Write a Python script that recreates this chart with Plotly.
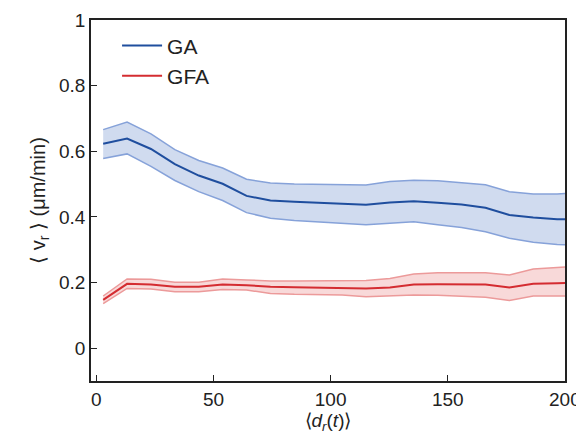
import plotly.graph_objects as go

x_vals = [2.9, 13.1, 23.3, 33.5, 43.7, 53.9, 64.1, 74.3, 84.5, 94.7, 104.9,
          115.1, 125.3, 135.5, 145.7, 155.9, 166.1, 176.3, 186.5, 196.7, 206.9]

ga_mean = [0.623, 0.639, 0.607, 0.561, 0.526, 0.501, 0.464, 0.450, 0.446, 0.443, 0.441,
           0.437, 0.444, 0.448, 0.443, 0.438, 0.428, 0.406, 0.398, 0.393, 0.392]
ga_upper = [0.666, 0.689, 0.653, 0.605, 0.572, 0.549, 0.515, 0.503, 0.500, 0.499, 0.499,
            0.497, 0.508, 0.512, 0.510, 0.505, 0.498, 0.477, 0.470, 0.470, 0.474]
ga_lower = [0.578, 0.592, 0.554, 0.511, 0.477, 0.450, 0.413, 0.396, 0.389, 0.384, 0.381,
            0.376, 0.381, 0.385, 0.376, 0.368, 0.355, 0.335, 0.323, 0.316, 0.313]

gfa_mean = [0.147, 0.196, 0.194, 0.187, 0.187, 0.194, 0.192, 0.187, 0.186, 0.185, 0.184,
            0.182, 0.185, 0.194, 0.195, 0.195, 0.194, 0.185, 0.196, 0.198, 0.200]
gfa_upper = [0.159, 0.211, 0.210, 0.201, 0.201, 0.211, 0.208, 0.205, 0.205, 0.205, 0.206,
             0.206, 0.212, 0.226, 0.230, 0.230, 0.230, 0.223, 0.241, 0.246, 0.250]
gfa_lower = [0.136, 0.182, 0.180, 0.172, 0.172, 0.179, 0.177, 0.167, 0.164, 0.163, 0.162,
             0.157, 0.159, 0.162, 0.161, 0.159, 0.155, 0.145, 0.159, 0.159, 0.159]

x_ticks = [0, 50, 100, 150, 200]
x_tick_text = ["0", "50", "100", "150", "200"]
y_ticks = [0, 0.2, 0.4, 0.6, 0.8, 1]
y_tick_text = ["0", "0.2", "0.4", "0.6", "0.8", "1"]

series = [
    ("GA", ga_mean, ga_upper, ga_lower, "#1f4e9e", "#86a2d9", "rgba(170,190,226,0.55)"),
    ("GFA", gfa_mean, gfa_upper, gfa_lower, "#d42c31", "#ec9a9a", "rgba(240,170,170,0.45)"),
]

fig = go.Figure()
for name, mean, up, lo, col, edge, fill in series:
    fig.add_trace(go.Scatter(x=x_vals, y=lo, mode="lines", line=dict(color=edge, width=1.5),
                             showlegend=False, hoverinfo="skip"))
    fig.add_trace(go.Scatter(x=x_vals, y=up, mode="lines", line=dict(color=edge, width=1.5),
                             fill="tonexty", fillcolor=fill, showlegend=False, hoverinfo="skip"))
for name, mean, up, lo, col, edge, fill in series:
    fig.add_trace(go.Scatter(x=x_vals, y=mean, mode="lines", name=name,
                             line=dict(color=col, width=2)))

fig.update_layout(
    width=576, height=445,
    margin=dict(l=91, r=11, t=20, b=64),
    paper_bgcolor="white", plot_bgcolor="white",
    font=dict(family="Liberation Sans, Arial, sans-serif", size=19, color="#222"),
    legend=dict(x=0.055, y=0.985, xanchor="left", yanchor="top", traceorder="normal",
                bgcolor="rgba(0,0,0,0)", font=dict(size=21),
                itemwidth=40, tracegroupgap=0),
    xaxis=dict(range=[-2.3, 200.05], tickvals=x_ticks, ticktext=x_tick_text,
               ticks="inside", ticklen=6, ticklabeloverflow="allow", automargin=False,
               showgrid=False, zeroline=False, showline=True, linecolor="#222",
               linewidth=1.5, mirror=True, tickcolor="#222",
               title=dict(text="⟨<i>d<sub>r</sub></i>(<i>t</i>)⟩", standoff=4,
                          font=dict(size=19))),
    yaxis=dict(range=[-0.1, 1.0], tickvals=y_ticks, ticktext=y_tick_text,
               ticks="inside", ticklen=6, showgrid=False, zeroline=False,
               showline=True, linecolor="#222", linewidth=1.5, mirror=True,
               tickcolor="#222", ticklabeloverflow="allow", automargin=False,
               title=dict(text="⟨ v<sub>r</sub> ⟩ (μm/min)", standoff=8,
                          font=dict(size=20))),
)

fig.write_html("out.html", config={"displayModeBar": False},
               post_script="document.body.style.margin='0';document.body.style.padding='0';")
